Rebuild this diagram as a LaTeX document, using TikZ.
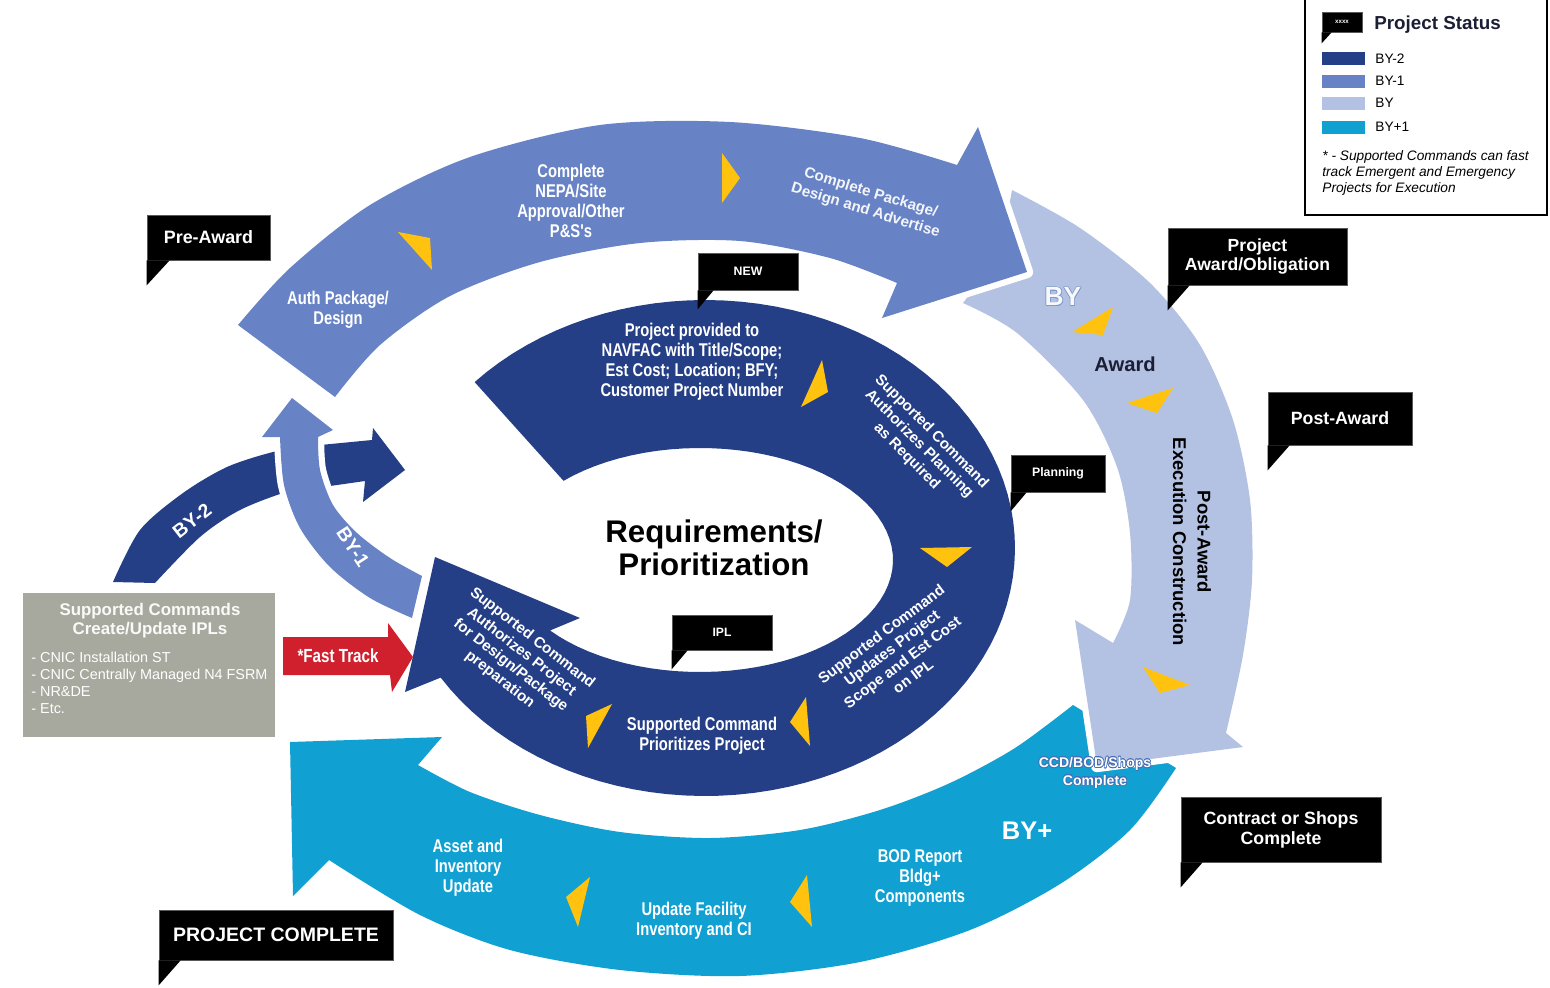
\documentclass[tikz,border=0pt]{standalone}
\usepackage{fontspec}
\usepackage[copies]{contour}
\setmainfont{Liberation Sans}
\newfontfamily\cfont{Liberation Sans}[FakeStretch=0.8]
\definecolor{navy}{RGB}{37,63,135}
\definecolor{midblue}{RGB}{104,131,197}
\definecolor{lightblue}{RGB}{179,194,227}
\definecolor{cyanband}{RGB}{16,160,210}
\definecolor{yel}{RGB}{255,194,14}
\definecolor{boxgray}{RGB}{168,169,158}
\definecolor{trackred}{RGB}{208,32,46}
\definecolor{inkdark}{RGB}{28,30,52}
\definecolor{rimblue}{RGB}{70,110,180}
\newcommand\fsz[2]{\fontsize{#1pt}{#2pt}\selectfont}
\contourlength{0.35pt}
\contournumber{16}
\begin{document}
\begin{tikzpicture}[x=0.02cm,y=-0.02cm,
  band/.style={fill=#1,preaction={draw=white,line width=7pt,line join=round}},
  wedge/.style={fill=yel},
  tag/.style={fill=black,draw=black!65,line width=0.5pt,text=white,inner sep=0pt,align=center},
  lbl/.style={text=white,align=center,font=\cfont\bfseries\fsz{10.5}{11.3}},
  rlbl/.style={text=white,align=center,font=\bfseries\fsz{8.6}{10}},
]
\useasboundingbox (0,0) rectangle (1550,987);
\fill[white] (0,0) rectangle (1550,987);

% ---- BY-2 arc running under the BY-1 arrow into a short navy arrow
\fill[navy] plot[smooth] coordinates {(113,582) (140,530) (183,493) (227,467) (273,452) (310,446)}
  -- (372,440) -- (373,428) -- (405,470) -- (363,502) -- (365,481)
  -- plot[smooth] coordinates {(330,486) (290,491) (240,510) (200,537) (155,583)} -- cycle;

% ---- BY-1 curved arrow
\path[band=midblue] plot[smooth] coordinates {(412,618) (370,598) (330,567) (300,528) (284,485) (280,437)}
  -- (262,437) -- (292,398) -- (333,430) -- (318,437)
  -- plot[smooth] coordinates {(318,437) (320,470) (333,505) (357,533) (390,558) (422,576)} -- cycle;

% ---- inner ring: requirements / prioritization
\fill[navy] plot[domain=222:508.5,samples=90,variable=\t] ({705+310*cos(\t)},{548+248*sin(\t)})
  -- (405,692) -- (435,557) -- (580,618)
  -- plot[domain=501:225,samples=70,variable=\t] ({700+193*cos(\t)},{560+112*sin(\t)}) -- cycle;

% ---- BY+1 band (bottom)
\fill[cyanband] plot[smooth] coordinates {(1073,705) (1015,748) (950,783) (880,810) (800,830) (710,838) (620,832) (540,815) (470,792) (418,765)}
  -- (442,737) -- (290,742) -- (293,896) -- (329,860)
  -- plot[smooth] coordinates {(329,860) (420,915) (510,950) (620,970) (740,976) (860,962) (970,930) (1060,884) (1130,830) (1176,768)} -- cycle;

% ---- BY band (right)
\path[band=lightblue] plot[smooth] coordinates {(1012,190) (1080,228) (1150,283) (1200,345) (1233,420) (1250,500) (1252,580) (1243,655) (1226,733)}
  -- (1243,747) -- (1097,766) -- (1075,620) -- (1113,643)
  -- plot[smooth] coordinates {(1113,643) (1130,600) (1130,533) (1117,467) (1083,400) (1017,333) (963,303)}
  -- (1000,255) -- cycle;

% ---- BY-1 band (top)
\path[band=midblue] plot[smooth] coordinates {(238,325) (290,268) (370,205) (470,157) (600,125) (730,122) (860,138) (957,165)}
  -- (978,127) -- (1027,272) -- (882,318) -- (897,283)
  -- plot[smooth] coordinates {(897,283) (830,258) (740,241) (640,243) (540,262) (450,296) (380,345) (335,397)} -- cycle;

% ---- yellow direction wedges
\fill[wedge] (398,232) -- (430,238) -- (432,270) -- cycle;
\fill[wedge] (722,153) -- (740,178) -- (722,203) -- cycle;
\fill[wedge] (822,360) -- (828,392) -- (801,407) -- cycle;
\fill[wedge] (920,548) -- (972,547) -- (947,567) -- cycle;
\fill[wedge] (806,697) -- (790,722) -- (810,746) -- cycle;
\fill[wedge] (612,704) -- (586,716) -- (588,748) -- cycle;
\fill[wedge] (1113,307) -- (1072,332) -- (1103,335) -- cycle;
\fill[wedge] (1173,388) -- (1127,403) -- (1157,413) -- cycle;
\fill[wedge] (1143,667) -- (1190,685) -- (1160,693) -- cycle;
\fill[wedge] (590,877) -- (566,897) -- (578,927) -- cycle;
\fill[wedge] (807,875) -- (790,902) -- (812,927) -- cycle;

% ---- texts on the top band
\node[lbl] (authpkg) at (338,310) {Auth Package/\\Design};
\node[lbl] (nepa) at (571,201) {Complete\\NEPA/Site\\Approval/Other\\P\&S's};
\node[text=white!92!midblue,align=center,font=\bfseries\fsz{8.6}{10.4},rotate=-17] (advert) at (868,202) {Complete Package/\\Design and Advertise};

% ---- texts on the inner ring
\node[lbl] (provided) at (692,362) {Project provided to\\NAVFAC with Title/Scope;\\Est Cost; Location; BFY;\\Customer Project Number};
\node[rlbl,rotate=-45] (authplan) at (919,444) {Supported Command\\Authorizes Planning\\as Required};
\node[rlbl,rotate=37] (updates) at (897,655) {Supported Command\\Updates Project\\Scope and Est Cost\\on IPL};
\node[lbl] (prior) at (702,736) {Supported Command\\Prioritizes Project};
\node[rlbl,rotate=-38] (authdes) at (516,659) {Supported Command\\Authorizes Project\\for Design/Package\\preparation};
\node[align=center,font=\bfseries\fsz{17.8}{18.7}] (title) at (714,548) {Requirements/\\Prioritization};

% ---- texts on the BY band
\node[text=white!88!lightblue,font=\bfseries\fsz{15}{16}] (bylbl) at (1063,297) {\contour{rimblue!70}{BY}};
\node[text=inkdark,font=\bfseries\fsz{11.5}{12}] (award) at (1125,364) {Award};
\node[text=black,align=center,font=\bfseries\fsz{10.5}{14},rotate=-90] (execution) at (1192,542) {Post-Award\\Execution Construction};

% ---- texts on the BY+1 band
\node[text=white,font=\bfseries\fsz{14.5}{15}] (byplus) at (1027,831) {BY+};
\node[text=white,align=center,font=\bfseries\fsz{8}{10}] (ccd) at (1095,773) {\contour{rimblue}{CCD/BOD/Shops}\\\contour{rimblue}{Complete}};
\node[lbl] (asset) at (468,868) {Asset and\\Inventory\\Update};
\node[lbl] (facility) at (694,921) {Update Facility\\Inventory and CI};
\node[lbl] (bod) at (920,878) {BOD Report\\Bldg+\\Components};

% ---- year labels on the small arcs
\node[text=white,font=\bfseries\fsz{11}{12},rotate=38] (by2lbl) at (192,521) {BY-2};
\node[text=white,font=\bfseries\fsz{11}{12},rotate=-57] (by1lbl) at (353,547) {BY-1};

% ---- supported commands box and fast track arrow
\node[fill=boxgray,minimum width=5.04cm,minimum height=2.88cm,inner sep=0pt] (ipls) at (149,665) {};
\node[text=white!94!boxgray,align=center,font=\bfseries\fsz{9.6}{10.8}] (iplstitle) at (150,621) {Supported Commands\\Create/Update IPLs};
\node[text=white,align=left,anchor=north west,font=\fsz{8.2}{9.7},inner sep=0pt] (iplslist) at (31,652) {- CNIC Installation ST\\- CNIC Centrally Managed N4 FSRM\\- NR\&DE\\- Etc.};
\fill[trackred] (283,637) -- (388,637) -- (388,623) -- (413,657) -- (392,692) -- (390,675) -- (283,675) -- cycle;
\node[text=white,font=\cfont\bfseries\fsz{10.8}{11}] (fasttrack) at (338,656) {*Fast Track};

% ---- black status callouts
\node[tag,minimum width=2.46cm,minimum height=0.9cm,font=\bfseries\fsz{10.2}{11}] (preaward) at (208.5,237.5) {Pre-Award};
\fill (preaward.south west) -- ++(0,25) -- ++(23,-25) -- cycle;
\node[tag,minimum width=2.0cm,minimum height=0.74cm,font=\bfseries\fsz{7}{8}] (newtag) at (748,271.5) {NEW};
\fill (newtag.south west) -- ++(0,19) -- ++(16,-19) -- cycle;
\node[tag,minimum width=3.58cm,minimum height=1.14cm,font=\bfseries\fsz{10}{10.8}] (awardtag) at (1257.5,256.5) {Project\\Award/Obligation};
\fill (awardtag.south west) -- ++(0,25) -- ++(22,-25) -- cycle;
\node[tag,minimum width=2.88cm,minimum height=1.06cm,font=\bfseries\fsz{10.1}{11}] (postaward) at (1340,418.5) {Post-Award};
\fill (postaward.south west) -- ++(0,25) -- ++(22,-25) -- cycle;
\node[tag,minimum width=1.88cm,minimum height=0.74cm,font=\bfseries\fsz{7}{8}] (planning) at (1058,473.5) {Planning};
\fill (planning.south west) -- ++(0,19) -- ++(16,-19) -- cycle;
\node[tag,minimum width=2.0cm,minimum height=0.7cm,font=\bfseries\fsz{6.9}{8}] (ipltag) at (722,632.5) {IPL};
\fill (ipltag.south west) -- ++(0,19) -- ++(16,-19) -- cycle;
\node[tag,minimum width=4.0cm,minimum height=1.3cm,font=\bfseries\fsz{10.1}{11.3}] (contract) at (1281,829.5) {Contract or Shops\\Complete};
\fill (contract.south west) -- ++(0,25) -- ++(22,-25) -- cycle;
\node[tag,minimum width=4.68cm,minimum height=1.0cm,font=\bfseries\fsz{11.1}{12}] (complete) at (276,935) {PROJECT COMPLETE};
\fill (complete.south west) -- ++(0,25) -- ++(22,-25) -- cycle;

% ---- legend
\draw[line width=0.9pt] (1305,0) -- (1305,215) -- (1547,215) -- (1547,0);
\node[tag,minimum width=0.8cm,minimum height=0.4cm,font=\bfseries\fsz{3.5}{4}] (legicon) at (1342,22) {xxxx};
\fill (legicon.south west) -- ++(0,11) -- ++(10,-11) -- cycle;
\node[text=inkdark,font=\bfseries\fsz{10.7}{12},anchor=west,inner sep=0pt] (legtitle) at (1374,25) {Project Status};
\fill[navy] (1322,52) rectangle (1365,65);
\fill[midblue] (1322,75) rectangle (1365,88);
\fill[lightblue] (1322,97) rectangle (1365,110);
\fill[cyanband] (1322,121) rectangle (1365,134);
\node[anchor=west,inner sep=0pt,font=\fsz{7.8}{9}] (legby2) at (1375,59) {BY-2};
\node[anchor=west,inner sep=0pt,font=\fsz{7.8}{9}] (legby1) at (1375,81) {BY-1};
\node[anchor=west,inner sep=0pt,font=\fsz{7.8}{9}] (legby) at (1375,103) {BY};
\node[anchor=west,inner sep=0pt,font=\fsz{7.8}{9}] (legbyp) at (1375,127) {BY+1};
\node[anchor=north west,inner sep=0pt,align=left,font=\itshape\fsz{7.8}{9.1}] (legnote) at (1322,150) {* - Supported Commands can fast\\track Emergent and Emergency\\Projects for Execution};
\end{tikzpicture}
\end{document}
